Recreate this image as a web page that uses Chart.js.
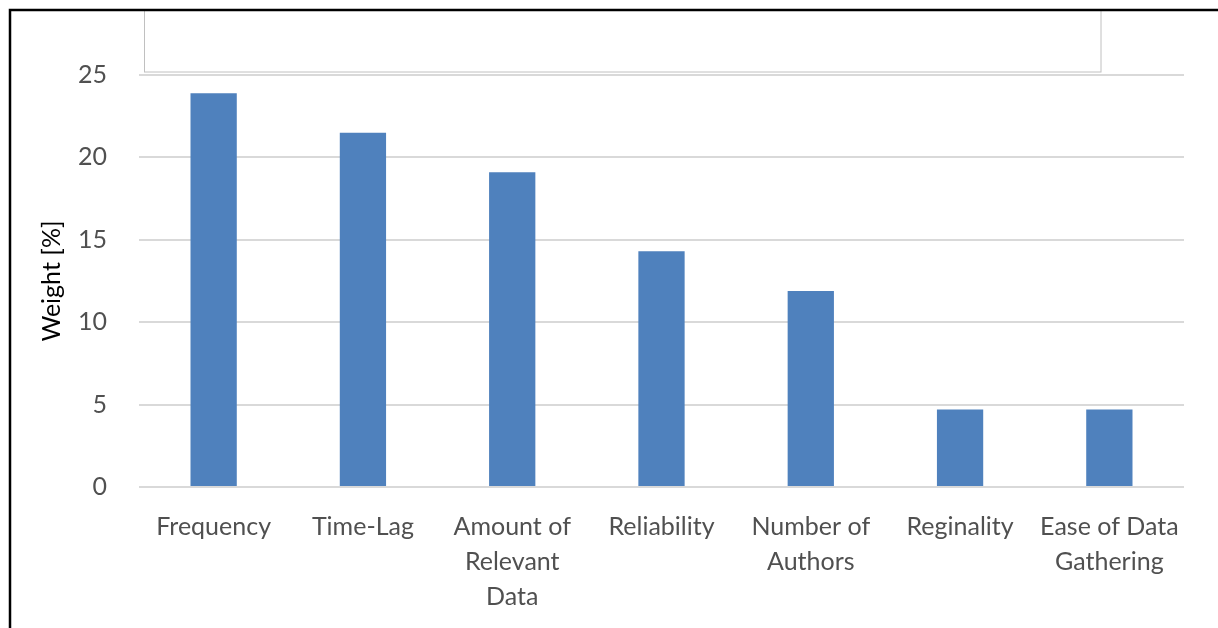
<!DOCTYPE html>
<html>
<head>
<meta charset="utf-8">
<script src="https://cdn.jsdelivr.net/npm/chart.js@4"></script>
<style>
  html, body { margin: 0; padding: 0; background: #ffffff; }
  #wrap { position: relative; width: 1218px; height: 628px; }
</style>
</head>
<body>
<div id="wrap"><canvas id="chart" width="1218" height="628"></canvas></div>
<script>
// Criteria and their weights
const categories = [
  ["Frequency"],
  ["Time-Lag"],
  ["Amount of", "Relevant", "Data"],
  ["Reliability"],
  ["Number of", "Authors"],
  ["Reginality"],
  ["Ease of Data", "Gathering"]
];
const weights = [23.9, 21.5, 19.1, 14.3, 11.9, 4.7, 4.7];
const yTicks = [0, 5, 10, 15, 20, 25];
const yAxisTitle = "Weight [%]";

// Outer frame (top and left edges) and the empty header box
const framePlugin = {
  id: 'frame',
  afterDraw(chart) {
    const ctx = chart.ctx;
    ctx.save();
    ctx.strokeStyle = '#c0c0c0';
    ctx.lineWidth = 1;
    ctx.strokeRect(144.5, 10.5, 956.5, 61.5);
    ctx.strokeStyle = '#000000';
    ctx.lineWidth = 2.5;
    ctx.beginPath();
    ctx.moveTo(10, 640);
    ctx.lineTo(10, 10);
    ctx.lineTo(1218, 10);
    ctx.stroke();
    ctx.restore();
  }
};

new Chart(document.getElementById('chart'), {
  type: 'bar',
  data: {
    labels: categories,
    datasets: [{
      data: weights,
      backgroundColor: '#4f81bd',
      borderWidth: 0,
      barPercentage: 0.31,
      categoryPercentage: 1.0
    }]
  },
  options: {
    responsive: false,
    animation: false,
    devicePixelRatio: 1,
    layout: { padding: { top: 75, right: 34, bottom: 11, left: 14 } },
    plugins: {
      legend: { display: false },
      tooltip: { enabled: false }
    },
    scales: {
      x: {
        grid: { display: false },
        border: { display: false },
        ticks: {
          color: '#505050',
          font: { family: 'Lato', size: 25, lineHeight: 1.4 },
          padding: 14,
          maxRotation: 0,
          autoSkip: false
        },
        afterFit(scale) { scale.height = 130; }
      },
      y: {
        min: 0,
        max: 25,
        afterBuildTicks(scale) { scale.ticks = yTicks.map(v => ({ value: v })); },
        grid: { color: '#d9d9d9', lineWidth: 2, drawTicks: false },
        border: { display: false },
        ticks: {
          color: '#505050',
          font: { family: 'Lato', size: 25 },
          padding: 32
        },
        title: {
          display: true,
          text: yAxisTitle,
          color: '#000000',
          font: { family: 'Lato', size: 25 },
          padding: { top: 23, bottom: 0 }
        },
        afterFit(scale) { scale.width = 125; }
      }
    }
  },
  plugins: [framePlugin]
});
</script>
</body>
</html>
